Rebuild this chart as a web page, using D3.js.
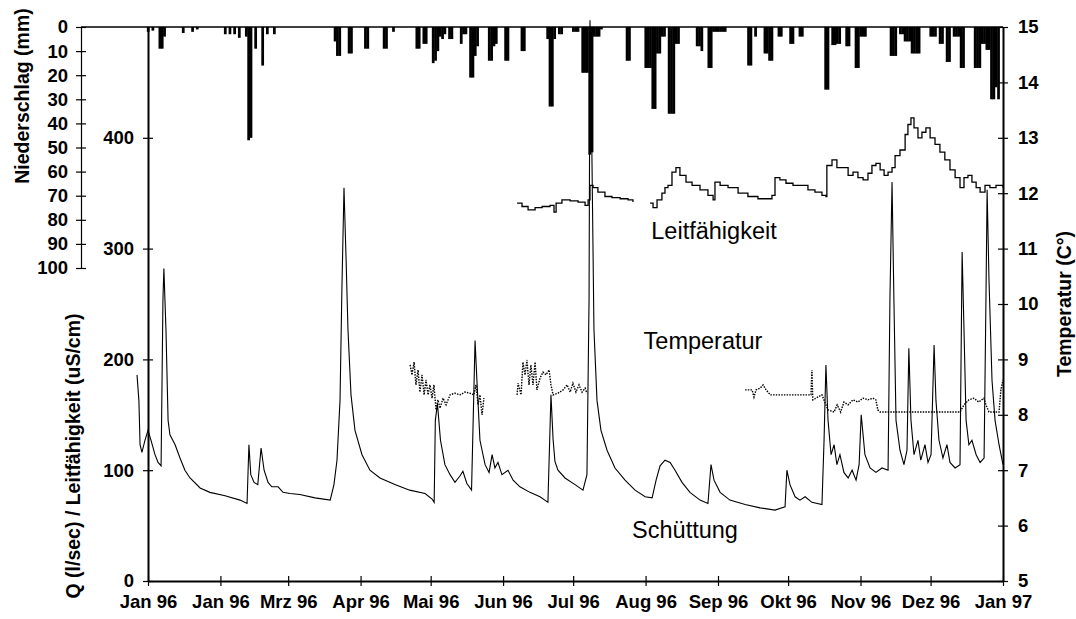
<!DOCTYPE html>
<html>
<head>
<meta charset="utf-8">
<script src="https://cdn.jsdelivr.net/npm/d3@7"></script>
<style>
body { margin: 0; background: #fff; }
svg text { font-family: "Liberation Sans", Arial, sans-serif; }
</style>
</head>
<body>
<div id="chart"></div>
<script>
// day 0 = 1 Jan 1996, day 366 = 1 Jan 1997
var monthDays = [0, 31, 60, 91, 121, 152, 182, 213, 244, 274, 305, 335, 366];
var monthLabels = ["Jan 96", "Jan 96", "Mrz 96", "Apr 96", "Mai 96", "Jun 96", "Jul 96",
                   "Aug 96", "Sep 96", "Okt 96", "Nov 96", "Dez 96", "Jan 97"];
var qTicks = [0, 100, 200, 300, 400];
var precipTicks = [0, 10, 20, 30, 40, 50, 60, 70, 80, 90, 100];
var tempTicks = [5, 6, 7, 8, 9, 10, 11, 12, 13, 14, 15];

// Niederschlag (mm) per day
var precipDay = [0,2,5,6,7,15,19,21,33,35,37,39,42,43,44,46,49,51,54,80,81,82,86,87,93,94,101,102,105,
  115,116,118,119,122,123,124,125,126,127,129,130,134,135,136,138,139,140,141,146,147,148,149,153,154,
  160,161,171,172,173,174,176,177,182,183,184,186,187,188,189,190,191,192,193,194,205,206,213,214,215,
  216,217,218,219,220,221,223,224,225,226,227,235,236,237,240,241,242,243,244,245,246,247,257,258,260,
  264,265,266,267,270,271,275,276,279,280,290,291,293,294,295,296,299,300,303,304,305,306,307,318,319,
  320,322,323,324,325,326,327,328,329,330,335,336,337,339,340,342,343,345,346,347,348,349,354,355,356,
  357,358,359,360,361,362,363,364];
var precipMm = [2,1.5,9,9,4,2.5,2,1,3,3,3,4.5,4,47,46,9,16,3,3,6,12,12,11,11,9,9,9,9,2,
  9,9,7,7,15,14,10,4,5,3,5,5,7,3,3,21,21,12,8,14,14,8,7,14,14,
  10,10,5,33,33,5,3,3,2,2,2,19,19,19,53,52,4,4,4,1,14,14,17,17,17,
  34,34,11,11,4,4,36,36,36,7,7,8,8,10,17,17,2,2,2,2,2,2,16,16,4,
  11,11,14,14,4,4,7,7,4,4,26,26,7.5,7.5,7,7,8,8,17,17,4,4,4,12,12,
  12,3,3,6,6,6,11,11,11,11,4,4,4,7,7,14.5,14.5,4,4,4,17,17,17,17,17,
  7,7,9.5,9.5,30,30,25,30];

// Schüttung Q (l/sec)
var qDay = [-4.7,-3.9,-3.4,-2.6,-1.3,0,1.3,3,4.3,5.6,6.4,6.8,7.7,8.6,9.4,11.6,13.7,15.8,18,22.3,26.5,33,39.4,42.4,
  43.2,44,45.4,47,48.4,49.7,51.4,53,55.7,57.8,60.8,65,71.5,78,79.6,80.9,82.2,83,83.9,84.8,85.6,86.9,88.6,91.6,95,
  99.3,105.7,112,118.6,121.6,122.5,123,123.9,125.2,127.1,129.3,131.4,133.6,134.8,136.5,138.5,140,140.8,142.1,144.3,
  146,147.3,148.5,149.8,151.5,154.1,156.3,159.2,163.5,167.8,171.2,172.5,173.4,174.2,175.5,178.5,182.8,186.2,187.9,
  188.8,189.2,190,190.9,192.2,193.9,196.5,199.9,204.2,208.5,212.8,215.8,217.5,219.2,221.3,223.5,225.6,228.6,232,
  236.3,239.7,241,242.3,244.9,249.1,255.6,262,268.4,272.7,273.5,274.8,277,279.1,281.3,284.2,288.5,289.4,290.2,
  291.1,292.4,293.7,294.9,296.2,297.9,299.7,301.4,303.1,304.4,305.3,306.9,309.1,311.6,314.2,316.8,317.6,318.5,
  319.3,320.2,321.9,323.6,324.9,325.7,326.6,327.9,329.6,330.8,332.6,333.9,335.2,336.5,337.3,338.6,340.3,342,
  343.3,345.5,347.6,348.5,349.3,350.2,351.4,352.7,354.5,356.2,357.9,358.7,359.2,360,361.3,362.6,364.3,366];
var qVal = [186,163,123,116,127,136,127,114,107,104,254,282,226,145,132,123,111,100,93,84,80,77,73,70,
  123,96,89,87,120,100,89,85,85,80,79,78,75,73,87,109,163,263,355,290,227,168,136,114,100,
  93,87,82,79,74,71,145,160,127,105,96,89,95,99,88,82,217,181,127,105,
  98,114,102,107,96,100,91,85,80,76,71,168,128,108,100,93,87,82,96,
  254,506,389,227,163,136,118,102,91,82,76,75,91,104,109,107,100,89,80,
  73,70,105,91,80,73,69,66,64,67,100,87,76,73,76,71,69,127,195,
  145,114,123,105,114,98,93,100,91,105,150,114,102,98,102,100,254,360,
  254,145,118,105,118,210,145,114,127,109,123,107,114,213,163,127,111,123,
  107,102,105,297,227,145,123,127,114,107,111,254,353,272,181,145,123,105];

// Leitfähigkeit (uS/cm), null = gap
var condDay = [158,160.1,162.7,165.7,168.7,172.1,173.8,174.7,177.2,180.7,184.1,187.1,188.4,189.2,190.5,192.6,
  195.6,198.6,202.1,205.5,207.6,211,
  214.9,216.2,217.9,220,221.3,222.6,224.3,226,227.7,230.3,232.9,236.3,239.7,241.9,242.7,244.9,248.3,252.6,
  256.8,261.1,264.6,267.1,268.4,270.5,273.1,276.1,279.1,282.5,285.5,288.5,290.2,290.6,292.8,294.9,297.5,
  299.7,301.8,303.9,306.1,308.2,309.9,311.6,313.4,315.1,316.8,318.5,319.8,321.9,324.1,325.3,326.6,327.9,
  329.6,331.3,333,334.8,336.9,339,341.1,343.3,345.5,347.6,349.3,351,352.7,354.5,356.2,358.3,360.4,363,366];
var condVal = [341,338,335,337,338,339,333,341,344,343,342,339,344,357,355,351,
  347,346,345,344,342,null,
  341,337,344,350,355,357,369,373,366,360,357,353,348,344,360,357,355,350,
  347,345,345,348,364,362,359,357,357,353,351,348,347,375,380,373,373,
  366,369,364,362,368,375,377,371,366,369,373,384,389,403,412,418,409,
  400,405,409,400,394,387,380,371,364,355,364,366,360,355,351,357,355,357,355];

// Temperatur (°C), null = gap
var tempDay = [112.2,113,113.9,114.7,115.6,116.4,117.3,118.2,119,119.9,120.7,121.6,122.4,123.3,124.1,125,126.3,
  127.6,129.3,131.4,133.6,135.7,137.8,139.5,140.4,141.3,142.1,143,143.8,150,
  158,158.4,159.7,160.5,161.4,162.2,163.1,163.9,164.8,165.7,166.5,167.8,169.1,170.4,171.7,172.5,173.4,
  175.5,177.7,179.4,180.7,181.9,183.2,184.5,185.8,187.1,187.9,220,
  255.6,258.6,259.4,260.3,262,263.3,264.6,266.4,274.8,283.8,284.2,284.6,288.5,290.2,291.1,293.7,295,296.5,
  297.9,299.7,301.8,303.9,306.1,308.2,310.3,311.6,312.4,313.4,330,347.6,349.3,351.4,353.5,355.6,357.8,
  358.7,360,364.3,365.1,366];
var tempVal = [8.90,8.72,8.95,8.54,8.81,8.41,8.72,8.36,8.63,8.36,8.54,8.30,8.54,8.09,8.27,8.12,8.30,
  8.18,8.36,8.39,8.36,8.41,8.39,8.36,8.54,8.18,8.36,8.00,8.30,null,
  8.36,8.57,8.36,8.95,8.72,8.99,8.54,8.90,8.54,8.95,8.45,8.66,8.77,8.72,8.81,8.54,8.36,
  8.39,8.45,8.54,8.41,8.57,8.41,8.54,8.41,8.48,8.39,null,
  8.45,8.45,8.32,8.45,8.48,8.54,8.45,8.36,8.36,8.36,8.81,8.27,8.36,8.18,8.09,8.05,8.18,8.05,
  8.23,8.18,8.27,8.23,8.30,8.27,8.30,8.27,8.09,8.05,8.05,8.05,8.18,8.27,8.30,8.23,8.30,
  8.18,8.05,8.05,8.45,8.63];

var W = 1076, H = 619;
var plotL = 148, plotR = 1003, plotT = 27, plotB = 581;
var fontFam = '"Liberation Sans", Arial, sans-serif';

var svg = d3.select('#chart').append('svg').attr('width', W).attr('height', H);

var x = d3.scaleLinear().domain([0, 366]).range([plotL, plotR]);
var yQ = d3.scaleLinear().domain([0, 500]).range([plotB, plotT]);
var yT = d3.scaleLinear().domain([5, 15]).range([plotB, plotT]);
var yP = d3.scaleLinear().domain([0, 100]).range([plotT, 268]);

// precipitation bars hanging from the top
var dayW = x(1) - x(0);
svg.append('g').selectAll('rect').data(precipDay).enter().append('rect')
    .attr('x', function(d) { return x(d) - dayW / 2; })
    .attr('y', yP(0))
    .attr('width', dayW + 0.4)
    .attr('height', function(d, i) { return yP(precipMm[i]) - yP(0); })
    .attr('fill', '#000');

// lines
var qLine = d3.line()
    .x(function(d) { return x(d[0]); })
    .y(function(d) { return yQ(d[1]); });
svg.append('path')
    .datum(qDay.map(function(d, i) { return [d, qVal[i]]; }))
    .attr('d', qLine)
    .attr('fill', 'none').attr('stroke', '#000').attr('stroke-width', 1.1);

var condLine = d3.line()
    .defined(function(d) { return d[1] != null; })
    .x(function(d) { return x(d[0]); })
    .y(function(d) { return yQ(d[1]); })
    .curve(d3.curveStepAfter);
svg.append('path')
    .datum(condDay.map(function(d, i) { return [d, condVal[i]]; }))
    .attr('d', condLine)
    .attr('fill', 'none').attr('stroke', '#000').attr('stroke-width', 1.3);

var tempLine = d3.line()
    .defined(function(d) { return d[1] != null; })
    .x(function(d) { return x(d[0]); })
    .y(function(d) { return yT(d[1]); });
svg.append('path')
    .datum(tempDay.map(function(d, i) { return [d, tempVal[i]]; }))
    .attr('d', tempLine)
    .attr('fill', 'none').attr('stroke', '#000').attr('stroke-width', 1.4)
    .attr('stroke-dasharray', '1.5,1.2');

// axes
function styleAxis(g, vertical) {
    g.attr('font-family', fontFam).attr('font-size', 18.5).attr('font-weight', 'bold');
    g.select('.domain').attr('stroke-width', 2);
    g.selectAll('.tick line').attr('stroke-width', 1.2);
    if (vertical) g.selectAll('.tick line').attr('x1', -5).attr('x2', 5);
    else g.selectAll('.tick line').attr('y1', -5).attr('y2', 5);
    g.selectAll('.tick text').attr('fill', '#000');
}

var gP = svg.append('g').attr('transform', 'translate(81,0)')
    .call(d3.axisLeft(yP).tickValues(precipTicks).tickSize(5).tickSizeOuter(0).tickPadding(8));
styleAxis(gP, true);
gP.select('.domain').attr('stroke-width', 1.2);

var gQ = svg.append('g').attr('transform', 'translate(' + plotL + ',0)')
    .call(d3.axisLeft(yQ).tickValues(qTicks).tickSize(5).tickSizeOuter(0).tickPadding(9));
styleAxis(gQ, true);

var gT = svg.append('g').attr('transform', 'translate(' + plotR + ',0)')
    .call(d3.axisRight(yT).tickValues(tempTicks).tickSize(5).tickSizeOuter(0).tickPadding(10));
styleAxis(gT, true);

var gX = svg.append('g').attr('transform', 'translate(0,' + plotB + ')')
    .call(d3.axisBottom(x).tickValues(monthDays)
        .tickFormat(function(d, i) { return monthLabels[i]; })
        .tickSize(5).tickSizeOuter(0).tickPadding(9));
styleAxis(gX, false);

// top baseline of the precipitation bars
svg.append('line')
    .attr('x1', 81).attr('x2', plotR).attr('y1', plotT).attr('y2', plotT)
    .attr('stroke', '#000').attr('stroke-width', 1.5);

// axis titles
function vTitle(txt, cx, cy) {
    svg.append('text')
        .attr('transform', 'translate(' + cx + ',' + cy + ') rotate(-90)')
        .attr('text-anchor', 'middle').attr('dominant-baseline', 'central')
        .attr('font-size', 19.5).attr('font-weight', 'bold')
        .text(txt);
}
vTitle('Niederschlag (mm)', 22, 96);
vTitle('Q (l/sec) / Leitfähigkeit (uS/cm)', 73, 456);
vTitle('Temperatur (C°)', 1064, 304);

// series labels
function label(txt, cx, cy) {
    svg.append('text').attr('x', cx).attr('y', cy)
        .attr('text-anchor', 'middle').attr('dominant-baseline', 'central')
        .attr('font-size', 23.5).text(txt);
}
label('Leitfähigkeit', 714, 231);
label('Temperatur', 703, 341);
label('Schüttung', 685, 530);
</script>
</body>
</html>
